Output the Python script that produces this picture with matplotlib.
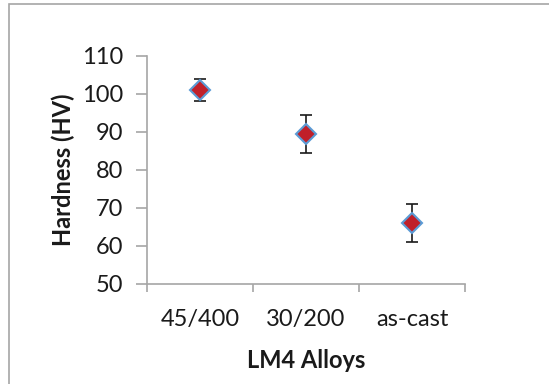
import matplotlib
matplotlib.use("Agg")
import matplotlib.pyplot as plt
from matplotlib.patches import Rectangle

categories = ["45/400", "30/200", "as-cast"]
hardness = [101.0, 89.5, 66.0]
errors = [2.9, 5.0, 5.0]

plt.rcParams['font.family'] = ['Lato', 'DejaVu Sans']

fig = plt.figure(figsize=(5.49, 3.84), dpi=100)
fig.patches.append(Rectangle((9/549, -0.1), 1.2, 1 - 4/384 + 0.1, transform=fig.transFigure,
                             fill=False, edgecolor='#a6a6a6', linewidth=1.2))
ax = fig.add_axes([147/549, 1 - 284/384, 318/549, 228/384])

xs = [i + 0.5 for i in range(len(categories))]
ax.errorbar(xs, hardness, yerr=errors, fmt='none', ecolor='#1a1a1a', elinewidth=1.2,
            capsize=4, capthick=1.2, zorder=2)
ax.plot(xs, hardness, linestyle='none', marker='D', markersize=10,
        markerfacecolor='#c0202a', markeredgecolor='#5b9bd5', markeredgewidth=1.5, zorder=3)

ax.set_xlim(0, 3)
ax.set_ylim(50, 110)
ax.set_yticks(range(50, 111, 10))
ax.set_xticks([0, 1, 2, 3])
ax.set_xticklabels([])
ax.set_xticks(xs, minor=True)
ax.set_xticklabels(categories, minor=True)
ax.tick_params(axis='x', which='minor', length=0, pad=18, labelsize=17, colors='#1a1a1a')
ax.tick_params(axis='x', which='major', length=6, width=1.2, color='#a6a6a6', direction='out')
ax.tick_params(axis='y', length=8, width=1.2, color='#a6a6a6', labelsize=17, labelcolor='#1a1a1a', pad=9)

for s in ['top', 'right']:
    ax.spines[s].set_visible(False)
for s in ['left', 'bottom']:
    ax.spines[s].set_color('#a6a6a6')
    ax.spines[s].set_linewidth(1.2)

ax.set_ylabel("Hardness (HV)", fontsize=17, fontweight='bold', color='#1a1a1a', labelpad=5)
ax.set_xlabel("LM4 Alloys", fontsize=17, fontweight='bold', color='#1a1a1a', labelpad=14)

fig.savefig("out.png", dpi=100)
